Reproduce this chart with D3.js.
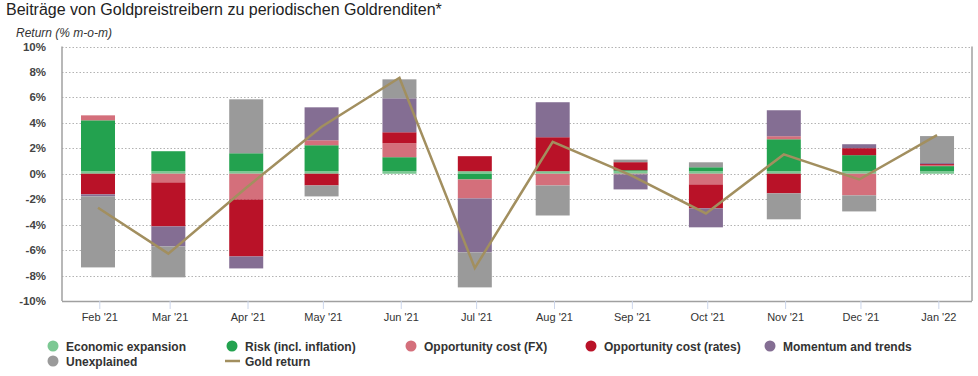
<!DOCTYPE html>
<html>
<head>
<meta charset="utf-8">
<script src="https://cdn.jsdelivr.net/npm/d3@7"></script>
<style>
  body { margin: 0; background: #fff; font-family: "Liberation Sans", Arial, sans-serif; }
  svg { display: block; }
</style>
</head>
<body>
<svg id="chart" width="978" height="376"></svg>
<script>
// months of the chart (first day of month)
const months = ['2021-02', '2021-03', '2021-04', '2021-05', '2021-06', '2021-07',
  '2021-08', '2021-09', '2021-10', '2021-11', '2021-12', '2022-01'];

// contributions in % m-o-m
const economicExpansion = [0.2, 0.2, 0.2, 0.2, 0.2, 0.2, 0.2, 0.2, 0.2, 0.2, 0.2, 0.2];
const riskInflation = [4.0, 1.57, 1.41, 2.04, 1.1, -0.45, 0, 0.08, 0.31, 2.51, 1.26, 0.4];
const oppCostFX = [0.39, -0.68, -2.02, 0.39, 1.1, -1.49, -0.92, -0.05, -0.84, 0.24, -1.7, 0.08];
const oppCostRates = [-1.62, -3.46, -4.48, -0.92, 0.86, 1.18, 2.67, 0.63, -1.88, -1.54, 0.55, 0.08];
const momentum = [-0.16, -1.57, -0.94, 2.59, 2.67, -4.24, 2.75, -1.18, -1.49, 2.04, 0.31, 0.08];
const unexplained = [-5.58, -2.43, 4.24, -0.86, 1.49, -2.75, -2.36, 0.2, 0.39, -2.04, -1.26, 2.12];
const goldReturn = [-2.67, -6.28, -1.1, 3.7, 7.54, -7.41, 2.51, -0.1, -3.12, 1.52, -0.45, 3.03];

const yTicks = [-10, -8, -6, -4, -2, 0, 2, 4, 6, 8, 10];

const series = [
  { key: 'econ', name: 'Economic expansion', color: '#7cc893', values: economicExpansion },
  { key: 'risk', name: 'Risk (incl. inflation)', color: '#23a24f', values: riskInflation },
  { key: 'fx', name: 'Opportunity cost (FX)', color: '#d46f7b', values: oppCostFX },
  { key: 'rates', name: 'Opportunity cost (rates)', color: '#b91228', values: oppCostRates },
  { key: 'mom', name: 'Momentum and trends', color: '#846e93', values: momentum },
  { key: 'unexp', name: 'Unexplained', color: '#9a9a9a', values: unexplained },
];
const goldColor = '#a28f5f';

const svg = d3.select('#chart');
const plot = { left: 62, right: 972, top: 46.5, bottom: 301 };

const parseMonth = d3.utcParse('%Y-%m');
const dates = months.map(parseMonth);
const DAY = 864e5;

const x = d3.scaleUtc()
  .domain([new Date(+dates[0] - 14.85 * DAY), new Date(+dates[dates.length - 1] + 13.4 * DAY)])
  .range([plot.left, plot.right]);
const y = d3.scaleLinear().domain([-10, 10]).range([plot.bottom, plot.top]);

const barW = 34;
const shift = -1.3;
const cx = i => x(dates[i]) + shift;

// title
svg.append('text')
  .attr('x', 6).attr('y', 14.5)
  .attr('font-size', 16).attr('fill', '#222')
  .text('Beiträge von Goldpreistreibern zu periodischen Goldrenditen*');

svg.append('text')
  .attr('x', 16).attr('y', 37)
  .attr('font-size', 12).attr('font-style', 'italic').attr('fill', '#333')
  .text('Return (% m-o-m)');

// grid
svg.append('g')
  .selectAll('line')
  .data(yTicks.filter(t => t > -10))
  .join('line')
  .attr('x1', plot.left).attr('x2', plot.right)
  .attr('y1', d => Math.round(y(d)) + 0.5).attr('y2', d => Math.round(y(d)) + 0.5)
  .attr('stroke', '#b3b3b3').attr('stroke-dasharray', '1.5,2');

// y labels
svg.append('g')
  .selectAll('text')
  .data(yTicks)
  .join('text')
  .attr('x', 46).attr('y', d => y(d) + 4)
  .attr('text-anchor', 'end')
  .attr('font-size', 11.5).attr('font-weight', 'bold').attr('fill', '#444')
  .text(d => d + '%');

// stacked bars
const table = months.map((m, i) => {
  const row = { i };
  series.forEach(s => { row[s.key] = s.values[i]; });
  return row;
});
const stacked = d3.stack()
  .keys(series.map(s => s.key))
  .offset(d3.stackOffsetDiverging)(table);

svg.append('g')
  .selectAll('g')
  .data(stacked)
  .join('g')
  .attr('fill', (d, k) => series[k].color)
  .selectAll('rect')
  .data(d => d)
  .join('rect')
  .attr('x', d => cx(d.data.i) - barW / 2)
  .attr('width', barW)
  .attr('y', d => y(Math.max(d[0], d[1])))
  .attr('height', d => Math.abs(y(d[0]) - y(d[1])));

// axes frame
const frame = svg.append('g').attr('stroke', '#a0a0a0').attr('stroke-width', 1.5);
frame.append('line').attr('x1', plot.left).attr('x2', plot.left).attr('y1', plot.top).attr('y2', plot.bottom);
frame.append('line').attr('x1', plot.right).attr('x2', plot.right).attr('y1', plot.top).attr('y2', plot.bottom);

// x axis
const xAxis = svg.append('g')
  .attr('transform', `translate(0,${plot.bottom})`)
  .call(d3.axisBottom(x)
    .tickValues(dates)
    .tickFormat(d3.utcFormat("%b '%y"))
    .tickSize(8)
    .tickPadding(4));
xAxis.select('.domain').attr('stroke', '#a0a0a0').attr('stroke-width', 1.5)
  .attr('d', `M${plot.left},0.5H${plot.right}`);
xAxis.selectAll('.tick line').attr('stroke', '#ccd6eb');
xAxis.selectAll('.tick text')
  .attr('font-family', '"Liberation Sans", Arial, sans-serif')
  .attr('font-size', 11).attr('fill', '#333');

// gold return line
svg.append('path')
  .datum(goldReturn)
  .attr('fill', 'none')
  .attr('stroke', goldColor)
  .attr('stroke-width', 2.5)
  .attr('d', d3.line().x((d, i) => cx(i)).y(d => y(d)));

// legend
const legendItems = [
  { s: series[0], x: 53, y: 346 },
  { s: series[1], x: 232, y: 346 },
  { s: series[2], x: 411, y: 346 },
  { s: series[3], x: 591, y: 346 },
  { s: series[4], x: 770, y: 346 },
  { s: series[5], x: 53, y: 361 },
];
const legend = svg.append('g').attr('font-size', 12).attr('font-weight', 'bold').attr('fill', '#333');
legendItems.forEach(it => {
  legend.append('circle').attr('cx', it.x).attr('cy', it.y).attr('r', 5.5).attr('fill', it.s.color);
  legend.append('text').attr('x', it.x + 13).attr('y', it.y + 4.5).text(it.s.name);
});
legend.append('line')
  .attr('x1', 225).attr('x2', 240).attr('y1', 361).attr('y2', 361)
  .attr('stroke', goldColor).attr('stroke-width', 2.5);
legend.append('text').attr('x', 245).attr('y', 365.5).text('Gold return');
</script>
</body>
</html>
